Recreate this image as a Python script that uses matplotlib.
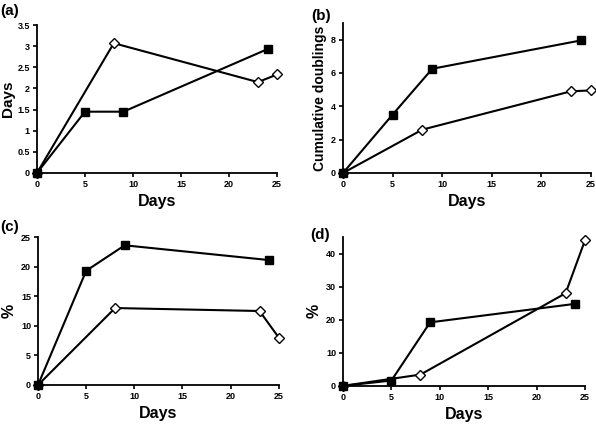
import matplotlib
matplotlib.use("Agg")
import matplotlib.pyplot as plt

plt.rcParams['font.family'] = ['Liberation Sans', 'DejaVu Sans']
plt.rcParams['font.weight'] = 'bold'

# Panel (a)
a_sq_x = [0, 5, 9, 24]
a_sq_y = [0, 1.45, 1.45, 2.93]
a_di_x = [0, 8, 23, 25]
a_di_y = [0, 3.07, 2.15, 2.33]
a_yticks = [0, 0.5, 1, 1.5, 2, 2.5, 3, 3.5]
a_ylabels = ['0', '0.5', '1', '1.5', '2', '2.5', '3', '3.5']

# Panel (b)
b_sq_x = [0, 5, 9, 24]
b_sq_y = [0, 3.5, 6.25, 7.95]
b_di_x = [0, 8, 23, 25]
b_di_y = [0, 2.6, 4.9, 4.95]
b_yticks = [0, 2, 4, 6, 8]

# Panel (c)
c_sq_x = [0, 5, 9, 24]
c_sq_y = [0, 19.3, 23.6, 21.1]
c_di_x = [0, 8, 23, 25]
c_di_y = [0, 13.0, 12.5, 8.0]
c_yticks = [0, 5, 10, 15, 20, 25]

# Panel (d)
d_sq_x = [0, 5, 9, 24]
d_sq_y = [0, 1.6, 19.2, 24.8]
d_di_x = [0, 8, 23, 25]
d_di_y = [0, 3.4, 28.0, 44.0]
d_yticks = [0, 10, 20, 30, 40]

xticks = [0, 5, 10, 15, 20, 25]

fig = plt.figure(figsize=(5.96, 4.24), dpi=100)

def panel(rect, sqx, sqy, dix, diy, ylim, yticks, ylabels, ylabel, ylfs, tag, tagpos,
          ylcoord=None):
    ax = fig.add_axes(rect)
    ax.plot(dix, diy, color='black', lw=1.5, marker='D', ms=5.5,
            mfc='white', mec='black', mew=1.0, zorder=3, clip_on=False)
    ax.plot(sqx, sqy, color='black', lw=1.5, marker='s', ms=5.5,
            mfc='black', mec='black', zorder=4, clip_on=False)
    ax.set_xlim(0, 25)
    ax.set_ylim(*ylim)
    ax.set_xticks(xticks)
    ax.set_xticklabels([str(t) for t in xticks], fontsize=6.5, fontweight='bold')
    ax.set_yticks(yticks)
    ax.set_yticklabels(ylabels, fontsize=6.5, fontweight='bold')
    ax.spines['top'].set_visible(False)
    ax.spines['right'].set_visible(False)
    ax.spines['left'].set_linewidth(1.3)
    ax.spines['bottom'].set_linewidth(1.3)
    ax.tick_params(direction='out', length=3, width=1.2, pad=2)
    ax.set_xlabel('Days', fontsize=11.5, fontweight='bold', labelpad=4)
    ax.set_ylabel(ylabel, fontsize=ylfs, fontweight='bold', labelpad=3)
    if ylcoord is not None:
        ax.yaxis.set_label_coords(ylcoord, 0.5)
    fig.text(tagpos[0], tagpos[1], tag, fontsize=11, fontweight='bold',
             ha='left', va='center')
    return ax

panel([0.062, 0.592, 0.403, 0.349], a_sq_x, a_sq_y, a_di_x, a_di_y,
      (0, 3.5), a_yticks, a_ylabels, 'Days', 11, '(a)', (0.0, 0.975), ylcoord=-0.09)
panel([0.5755, 0.592, 0.416, 0.354], b_sq_x, b_sq_y, b_di_x, b_di_y,
      (0, 9), b_yticks, [str(t) for t in b_yticks], 'Cumulative doublings', 10,
      '(b)', (0.523, 0.962))
panel([0.0638, 0.092, 0.404, 0.349], c_sq_x, c_sq_y, c_di_x, c_di_y,
      (0, 25), c_yticks, [str(t) for t in c_yticks], '%', 11.5, '(c)', (0.0, 0.465))
panel([0.5755, 0.090, 0.406, 0.351], d_sq_x, d_sq_y, d_di_x, d_di_y,
      (0, 45), d_yticks, [str(t) for t in d_yticks], '%', 11.5, '(d)', (0.52, 0.446))

fig.savefig('out.png', dpi=100)
